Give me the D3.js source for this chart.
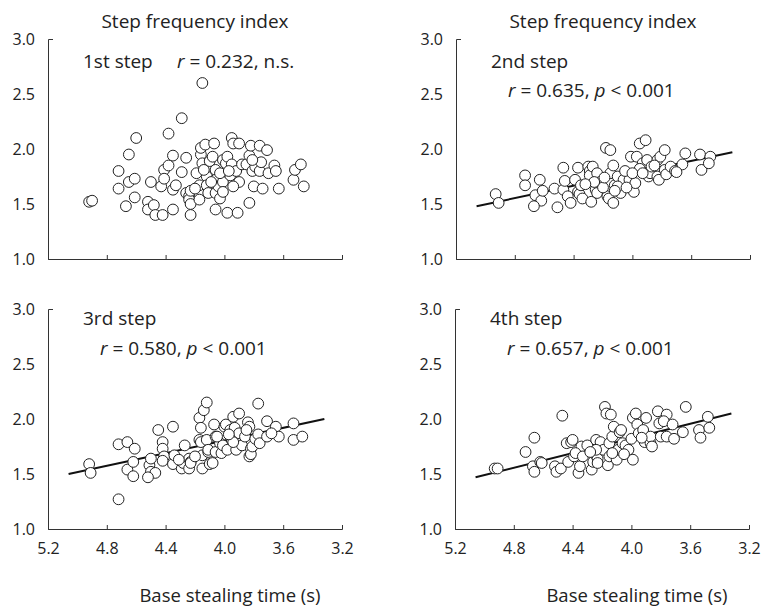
<!DOCTYPE html>
<html>
<head>
<meta charset="utf-8">
<title></title>
<style>
  body { margin: 0; background: #fff; }
  text { font-family: "Open Sans", Lato, sans-serif; fill: #222; }
</style>
</head>
<body>
<script src="https://d3js.org/d3.v7.min.js"></script>
<script type="text/javascript">

    // base stealing time (s), step frequency index
    var step1 = [[4.92,1.52],[4.90,1.53],[4.72,1.80],[4.72,1.64],[4.65,1.95],[4.65,1.70],[4.61,1.73],[4.61,1.56],
        [4.67,1.48],[4.60,2.10],[4.52,1.52],[4.52,1.45],[4.50,1.70],[4.48,1.49],[4.47,1.40],[4.43,1.66],[4.42,1.40],
        [4.41,1.81],[4.41,1.73],[4.38,2.14],[4.38,1.85],[4.35,1.45],[4.35,1.94],[4.35,1.63],[4.33,1.67],[4.29,2.28],
        [4.29,1.79],[4.26,1.92],[4.26,1.60],[4.24,1.57],[4.24,1.54],[4.23,1.62],[4.23,1.40],[4.23,1.50],[4.19,1.78],
        [4.17,1.67],[4.16,1.95],[4.16,2.01],[4.15,2.60],[4.15,1.87],[4.13,2.04],[4.12,1.75],[4.12,1.67],[4.11,1.60],
        [4.10,1.89],[4.08,1.93],[4.07,2.05],[4.06,1.81],[4.06,1.72],[4.06,1.60],[4.06,1.45],[4.04,1.66],[4.03,1.55],
        [4.01,1.90],[4.01,1.70],[4.01,1.61],[3.99,1.87],[3.98,1.93],[3.98,1.42],[3.96,1.76],[3.95,1.86],[3.95,2.10],
        [3.94,2.05],[3.92,1.80],[3.91,1.42],[3.90,2.05],[3.90,1.70],[3.88,1.86],[3.85,1.86],[3.83,1.94],[3.83,1.51],
        [3.82,2.03],[3.81,1.80],[3.80,1.66],[3.79,1.84],[3.76,2.03],[3.76,1.80],[3.75,1.88],[3.74,1.64],[3.71,1.99],
        [3.70,1.78],[3.66,1.85],[3.65,1.80],[3.63,1.64],[3.53,1.72],[3.52,1.81],[3.48,1.86],[3.46,1.66],
        [4.14,1.81],[4.03,1.78],[3.94,1.66],[3.81,1.90],[4.17,1.54],[4.09,1.70],[3.97,1.80],[4.20,1.64]];

    var step2 = [[4.93,1.59],[4.91,1.51],[4.73,1.76],[4.73,1.67],[4.66,1.58],[4.63,1.72],[4.62,1.53],[4.67,1.48],
        [4.61,1.62],[4.53,1.64],[4.51,1.47],[4.47,1.83],[4.47,1.63],[4.46,1.71],[4.44,1.57],[4.42,1.51],[4.39,1.72],
        [4.37,1.83],[4.37,1.61],[4.36,1.59],[4.35,1.67],[4.34,1.55],[4.30,1.84],[4.29,1.80],[4.29,1.76],[4.28,1.52],
        [4.27,1.84],[4.25,1.63],[4.24,1.60],[4.24,1.78],[4.22,1.70],[4.18,2.01],[4.15,1.99],[4.17,1.57],[4.16,1.55],
        [4.15,1.78],[4.13,1.51],[4.13,1.85],[4.12,1.67],[4.10,1.75],[4.08,1.60],[4.06,1.72],[4.02,1.72],[4.01,1.93],
        [3.99,1.61],[3.98,1.69],[3.97,1.93],[3.95,2.05],[3.93,1.87],[3.91,2.08],[3.90,1.90],[3.89,1.75],[3.88,1.78],
        [3.87,1.84],[3.83,1.90],[3.83,1.75],[3.82,1.72],[3.81,1.93],[3.78,1.99],[3.78,1.81],[3.77,1.77],[3.74,1.84],
        [3.71,1.80],[3.66,1.86],[3.64,1.96],[3.54,1.95],[3.53,1.81],[3.47,1.93],[3.48,1.87],
        [4.20,1.65],[4.10,1.66],[4.05,1.80],[3.95,1.82],[3.85,1.85],[4.00,1.78],[4.12,1.62],[4.26,1.70],[3.70,1.79],
        [4.32,1.68],[4.19,1.74],[4.04,1.65],[3.93,1.78]];

    var step3 = [[4.92,1.59],[4.91,1.51],[4.72,1.77],[4.72,1.27],[4.66,1.79],[4.66,1.54],[4.62,1.61],[4.61,1.73],
        [4.62,1.48],[4.45,1.90],[4.51,1.58],[4.50,1.52],[4.47,1.51],[4.52,1.47],[4.50,1.64],[4.42,1.79],[4.42,1.73],
        [4.41,1.66],[4.42,1.62],[4.35,1.93],[4.35,1.59],[4.34,1.67],[4.29,1.55],[4.27,1.76],[4.28,1.60],[4.24,1.64],
        [4.24,1.55],[4.23,1.61],[4.23,1.60],[4.17,2.01],[4.16,1.92],[4.15,1.55],[4.17,1.81],[4.16,1.79],[4.15,1.67],
        [4.14,2.08],[4.12,2.15],[4.12,1.81],[4.11,1.70],[4.11,1.72],[4.10,1.59],[4.08,1.60],[4.07,1.95],[4.06,1.84],
        [4.06,1.70],[4.03,1.78],[4.02,1.69],[4.01,1.76],[4.00,1.93],[3.99,1.95],[3.98,1.72],[3.96,1.90],[3.95,1.81],
        [3.94,2.02],[3.93,1.92],[3.92,1.72],[3.90,2.05],[3.90,1.87],[3.88,1.76],[3.86,1.84],[3.84,1.97],[3.83,1.93],
        [3.83,1.66],[3.82,1.73],[3.82,1.68],[3.81,1.75],[3.79,1.82],[3.77,2.14],[3.77,1.86],[3.76,1.78],[3.71,1.98],
        [3.65,1.93],[3.63,1.84],[3.53,1.96],[3.53,1.81],[3.47,1.84],[3.71,1.84],[3.68,1.87],[4.05,1.84],[3.94,1.79],
        [3.85,1.90],[4.20,1.66],[4.31,1.63],[3.97,1.86]];

    var step4 = [[4.93,1.55],[4.91,1.55],[4.72,1.70],[4.66,1.83],[4.67,1.57],[4.66,1.52],[4.62,1.61],[4.61,1.60],
        [4.52,1.57],[4.51,1.52],[4.48,1.55],[4.47,2.03],[4.44,1.78],[4.43,1.61],[4.41,1.79],[4.40,1.81],[4.39,1.66],
        [4.36,1.51],[4.35,1.57],[4.34,1.75],[4.30,1.76],[4.27,1.54],[4.26,1.61],[4.24,1.81],[4.24,1.67],[4.23,1.64],
        [4.23,1.60],[4.21,1.79],[4.19,1.72],[4.18,2.11],[4.17,2.05],[4.16,1.58],[4.15,1.66],[4.15,1.78],[4.14,2.04],
        [4.13,1.84],[4.12,1.93],[4.10,1.63],[4.09,1.72],[4.08,1.88],[4.07,1.90],[4.06,1.78],[4.04,1.76],[4.02,1.72],
        [4.00,1.82],[3.99,1.63],[3.99,2.01],[3.97,2.05],[3.96,1.95],[3.95,1.87],[3.92,1.90],[3.91,1.79],[3.90,2.01],
        [3.87,1.78],[3.87,1.84],[3.86,1.75],[3.82,2.07],[3.81,1.96],[3.80,1.84],[3.76,2.04],[3.78,1.98],[3.76,1.84],
        [3.72,1.95],[3.71,1.82],[3.65,1.88],[3.63,2.11],[3.54,1.90],[3.53,1.83],[3.48,2.02],[3.47,1.92],[4.13,1.69],
        [4.24,1.72],[4.38,1.69],[4.33,1.66],[4.28,1.70],[4.05,1.68],[3.93,1.83]];

    // regression lines (ends), none for step 1
    var fitX = [5.06, 3.32];
    var fit2 = [1.48, 1.97];
    var fit3 = [1.50, 2.00];
    var fit4 = [1.47, 2.05];

    var stepNames = ['1st step', '2nd step', '3rd step', '4th step'];
    var rValues = ['0.232', '0.635', '0.580', '0.657'];
    var pTexts = ['n.s.', '< 0.001', '< 0.001', '< 0.001'];
    var xTicks = [5.2, 4.8, 4.4, 4.0, 3.6, 3.2];
    var yTicks = [1.0, 1.5, 2.0, 2.5, 3.0];

    var panels = [
        {pts: step1, fit: null, left: 48, top: 39, title: true, xlab: false},
        {pts: step2, fit: fit2, left: 456, top: 39, title: true, xlab: false},
        {pts: step3, fit: fit3, left: 48, top: 309, title: false, xlab: true},
        {pts: step4, fit: fit4, left: 455, top: 309, title: false, xlab: true}
    ];

    var w = 294, h = 220;

    var svg = d3.select('body')
                .append('svg')
                    .attr('width', 763)
                    .attr('height', 606);

    panels.forEach(function(p, i) {
        var x = d3.scaleLinear().domain([5.2, 3.2]).range([0, w]);
        var y = d3.scaleLinear().domain([1.0, 3.0]).range([h, 0]);

        var g = svg.append('g')
                   .attr('transform', 'translate(' + p.left + ',' + p.top + ')');

        var xAxis = d3.axisBottom(x)
                      .tickValues(xTicks)
                      .tickSizeInner(-4)
                      .tickSizeOuter(-4)
                      .tickPadding(14)
                      .tickFormat(d3.format('.1f'));
        var xg = g.append('g')
                  .attr('transform', 'translate(0,' + h + ')')
                  .call(xAxis);
        if (!p.xlab) xg.selectAll('.tick text').remove();

        var yAxis = d3.axisLeft(y)
                      .tickValues(yTicks)
                      .tickSizeInner(0)
                      .tickSizeOuter(-5)
                      .tickPadding(13)
                      .tickFormat(d3.format('.1f'));
        var yg = g.append('g').call(yAxis);

        [xg, yg].forEach(function(a) {
            a.selectAll('path, line').attr('stroke', '#333').attr('stroke-width', 1);
            a.selectAll('text').style('font-size', '16px').attr('fill', '#222')
             .style('font-family', '"Open Sans", sans-serif');
        });

        if (p.fit) {
            g.append('line')
             .attr('x1', x(fitX[0])).attr('y1', y(p.fit[0]))
             .attr('x2', x(fitX[1])).attr('y2', y(p.fit[1]))
             .attr('stroke', '#111').attr('stroke-width', 2);
        }

        g.selectAll('circle')
         .data(p.pts)
         .enter()
         .append('circle')
            .attr('cx', function(d) { return x(d[0]); })
            .attr('cy', function(d) { return y(d[1]); })
            .attr('r', 5.4)
            .attr('fill', '#fff')
            .attr('stroke', '#222')
            .attr('stroke-width', 1);

        if (p.title) {
            g.append('text')
             .attr('x', w / 2).attr('y', -11)
             .attr('text-anchor', 'middle')
             .style('font-size', '19px')
             .text('Step frequency index');
        }

        g.append('text')
         .attr('x', 35).attr('y', i == 2 || i == 3 ? 16 : 29)
         .style('font-size', '19px')
         .text(stepNames[i]);

        var stat = g.append('text').style('font-size', '19px');
        if (i == 0) {
            stat.attr('x', 129).attr('y', 29);
        } else {
            stat.attr('x', 52).attr('y', i == 1 ? 58 : 46);
        }
        stat.append('tspan').style('font-style', 'italic').text('r');
        stat.append('tspan').text(' = ' + rValues[i] + ', ');
        if (i == 0) {
            stat.append('tspan').text(pTexts[i]);
        } else {
            stat.append('tspan').style('font-style', 'italic').text('p');
            stat.append('tspan').text(' ' + pTexts[i]);
        }

        if (p.xlab) {
            g.append('text')
             .attr('x', w / 2 + 35).attr('y', 293)
             .attr('text-anchor', 'middle')
             .style('font-size', '18.5px')
             .text('Base stealing time (s)');
        }
    });

</script>
</body>
</html>
